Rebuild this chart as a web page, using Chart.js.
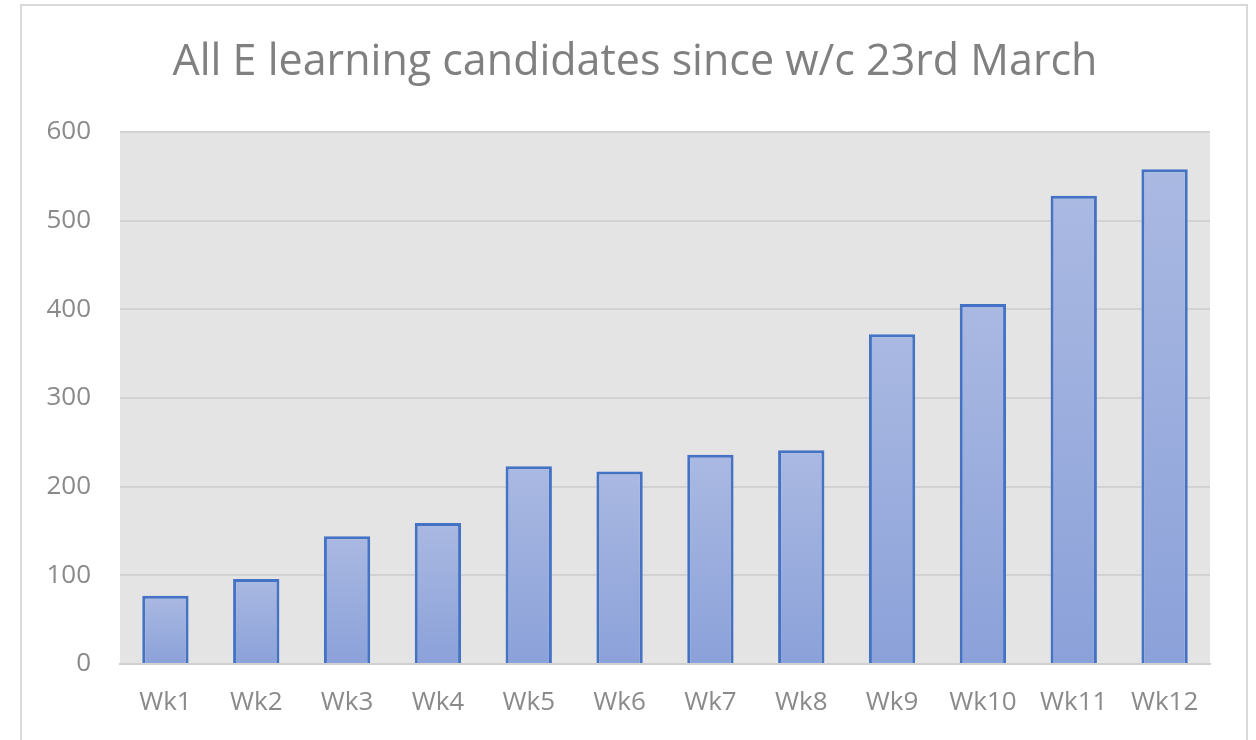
<!DOCTYPE html>
<html>
<head>
<meta charset="utf-8">
<script src="https://cdn.jsdelivr.net/npm/chart.js@4"></script>
<style>
  html, body { margin: 0; padding: 0; background: #fff; }
  #wrap { position: relative; width: 1256px; height: 740px; }
  #frame { position: absolute; left: 20px; top: 4px; width: 1228px; height: 760px; border: 2px solid #d9d9d9; box-sizing: border-box; }
  canvas { position: absolute; left: 0; top: 0; }
</style>
</head>
<body>
<div id="wrap">
  <div id="frame"></div>
  <canvas id="chart" width="1256" height="740"></canvas>
</div>
<script>
const weeks = ["Wk1", "Wk2", "Wk3", "Wk4", "Wk5", "Wk6", "Wk7", "Wk8", "Wk9", "Wk10", "Wk11", "Wk12"];
const candidates = [77, 96, 144, 159, 223, 217, 236, 241, 372, 406, 528, 558];
const yTicks = [0, 100, 200, 300, 400, 500, 600];
const chartTitle = "All E learning candidates since w/c 23rd March";

// grey plot area behind the bars
const plotBg = {
    id: "plotBg",
    beforeDraw(chart) {
        const { ctx, chartArea: a } = chart;
        ctx.save();
        ctx.fillStyle = "#e4e4e4";
        ctx.fillRect(a.left, a.top, a.right - a.left, a.bottom - a.top);
        ctx.restore();
    }
};

// title centred on the outer frame rather than the plot
const frameTitle = {
    id: "frameTitle",
    afterDraw(chart) {
        const ctx = chart.ctx;
        ctx.save();
        ctx.fillStyle = "#808080";
        ctx.font = "43px 'Open Sans'";
        ctx.textAlign = "center";
        ctx.textBaseline = "middle";
        ctx.fillText(chartTitle, 635, 63);
        ctx.restore();
    }
};

function barGradient(context) {
    const chart = context.chart;
    if (!chart.chartArea) return "#9aaddd";
    const v = context.parsed ? context.parsed.y : 0;
    const yScale = chart.scales.y;
    const top = yScale.getPixelForValue(v);
    const base = yScale.getPixelForValue(0);
    const g = chart.ctx.createLinearGradient(0, top, 0, base);
    g.addColorStop(0, "#aab9e2");
    g.addColorStop(1, "#8ba1d9");
    return g;
}

new Chart(document.getElementById("chart").getContext("2d"), {
    type: "bar",
    data: {
        labels: weeks,
        datasets: [{
            data: candidates,
            backgroundColor: barGradient,
            borderColor: "#4472c4",
            borderWidth: 3,
            borderSkipped: "bottom",
            barPercentage: 1,
            categoryPercentage: 0.51
        }]
    },
    options: {
        responsive: false,
        animation: false,
        layout: { padding: { left: 20, right: 46, top: 132, bottom: 0 } },
        plugins: {
            legend: { display: false },
            tooltip: { enabled: false },
            title: { display: false }
        },
        scales: {
            x: {
                grid: { display: false, drawTicks: false },
                border: { display: true, color: "#d0d0d0", width: 2 },
                ticks: { color: "#8a8a8a", padding: 23, font: { family: "Open Sans", size: 26 } },
                afterFit(scale) { scale.height = 76; }
            },
            y: {
                min: 0,
                max: 600,
                afterBuildTicks(scale) { scale.ticks = yTicks.map(v => ({ value: v })); },
                grid: { color: "#d2d2d2", lineWidth: 2, drawTicks: false },
                border: { display: false },
                ticks: { color: "#8a8a8a", padding: 29, font: { family: "Open Sans", size: 26 } },
                afterFit(scale) { scale.width = 100; }
            }
        }
    },
    plugins: [plotBg, frameTitle]
});
</script>
</body>
</html>
